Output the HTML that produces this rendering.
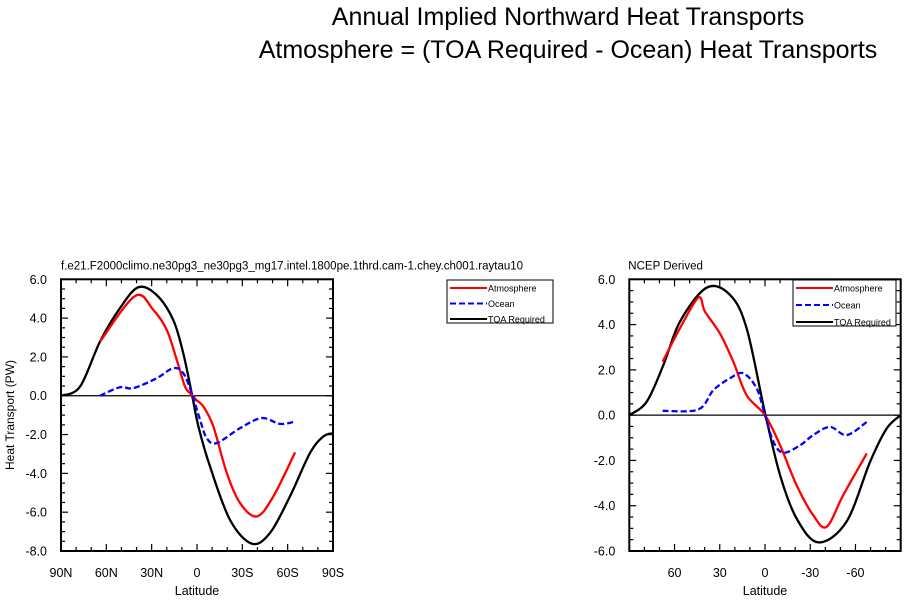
<!DOCTYPE html>
<html><head><meta charset="utf-8"><style>
body{margin:0;background:#fff;width:915px;height:601px;overflow:hidden;font-family:"Liberation Sans",sans-serif}
svg text{font-family:"Liberation Sans",sans-serif}
</style></head><body>
<svg id="chart" width="915" height="601">
<text x="568" y="25" font-size="25" text-anchor="middle">Annual Implied Northward Heat Transports</text>
<text x="568" y="58" font-size="25" text-anchor="middle">Atmosphere = (TOA Required - Ocean) Heat Transports</text>
</svg>
<script>
// ---- data: left panel (model) ----
const leftTicksX=[90,60,30,0,-30,-60,-90];
const leftTickLabelsX=["90N","60N","30N","0","30S","60S","90S"];
const leftTicksY=[6,4,2,0,-2,-4,-6,-8];
const leftTickLabelsY=["6.0","4.0","2.0","0.0","-2.0","-4.0","-6.0","-8.0"];
const leftToaLat=[90,77.4,64.2,51,38.8,26.7,15.7,9.1,3.5,-1,-8.6,-21.8,-36.2,-48.3,-61.5,-74.8,-83.6,-90];
const leftToaVal=[0,0.47,2.79,4.51,5.59,5.19,3.9,2.19,0.13,-1.6,-3.64,-6.39,-7.62,-7.07,-5.19,-2.95,-2.1,-1.93];
const leftAtmLat=[64.2,41,28.9,20,13.4,7.9,3.5,0,-4.2,-10.8,-19.7,-28.5,-39.5,-50.5,-64.9];
const leftAtmVal=[2.79,5.14,4.42,3.39,1.85,0.47,0.05,-0.25,-0.55,-1.58,-3.98,-5.53,-6.22,-5.19,-2.92];
const leftOcnLat=[64.2,51,42.2,26.7,15.7,9.1,3.5,-2,-6.4,-13,-28.5,-42.8,-54.9,-64.9];
const leftOcnVal=[0,0.44,0.39,0.9,1.42,1.16,0.13,-1.24,-2.18,-2.44,-1.67,-1.15,-1.45,-1.33];
// ---- data: right panel (NCEP) ----
const rightTicksX=[60,30,0,-30,-60];
const rightTickLabelsX=["60","30","0","-30","-60"];
const rightTicksY=[6,4,2,0,-2,-4,-6];
const rightTickLabelsY=["6.0","4.0","2.0","0.0","-2.0","-4.0","-6.0"];
const rightToaLat=[90,78.5,67.4,56.4,38.7,23.2,12.2,0,-10,-21,-35.4,-54,-69.7,-80.7,-90];
const rightToaVal=[0,0.59,2.21,4.13,5.63,5.31,3.84,0.1,-2.65,-4.57,-5.62,-4.71,-2.06,-0.59,0];
const rightAtmLat=[67.9,56.4,44.2,39.8,29.9,21,12.2,0,-10,-21,-32,-40.9,-51.9,-67.5];
const rightAtmVal=[2.36,3.84,5.19,4.57,3.61,2.36,0.88,0,-1.33,-3.1,-4.42,-4.93,-3.53,-1.69];
const rightOcnLat=[67.9,44.2,34.3,23.2,14.4,5.5,0,-5.6,-12.2,-23.3,-32,-43.1,-54.2,-67.5];
const rightOcnVal=[0.19,0.25,1.1,1.63,1.85,1.18,0,-1.18,-1.66,-1.33,-0.88,-0.52,-0.88,-0.3];

const NS="http://www.w3.org/2000/svg";
const svg=document.getElementById('chart');
function mk(tag,attrs,parent){const e=document.createElementNS(NS,tag);for(const k in attrs)e.setAttribute(k,attrs[k]);(parent||svg).appendChild(e);return e;}
function smooth(pts){let d="M"+pts[0][0]+","+pts[0][1];for(let i=0;i<pts.length-1;i++){const p0=pts[Math.max(0,i-1)],p1=pts[i],p2=pts[i+1],p3=pts[Math.min(pts.length-1,i+2)];
d+=" C"+(p1[0]+(p2[0]-p0[0])/6)+","+(p1[1]+(p2[1]-p0[1])/6)+" "+(p2[0]-(p3[0]-p1[0])/6)+","+(p2[1]-(p3[1]-p1[1])/6)+" "+p2[0]+","+p2[1];}return d;}

function panel(o){
  const g=mk('g',{});
  
  
  const X=lat=>o.x0+(90-lat)/180*(o.x1-o.x0);
  const Y=v=>o.y0+(o.ymax-v)/(o.ymax-o.ymin)*(o.y1-o.y0);
  for(let v=o.ymin;v<=o.ymax+1e-9;v+=0.5){const y=Y(v),major=Math.abs(v-Math.round(v/2)*2)<1e-6;const L=major?7:4;
    mk('line',{x1:o.x0,x2:o.x0+L,y1:y,y2:y,stroke:'#000','stroke-width':1.2},g);
    mk('line',{x1:o.x1,x2:o.x1-L,y1:y,y2:y,stroke:'#000','stroke-width':1.2},g);}
  for(let lat=-90;lat<=90;lat+=10){const x=X(lat),major=lat%30===0;const L=major?7:4;
    mk('line',{x1:x,x2:x,y1:o.y1,y2:o.y1-L,stroke:'#000','stroke-width':1.2},g);
    mk('line',{x1:x,x2:x,y1:o.y0,y2:o.y0+L,stroke:'#000','stroke-width':1.2},g);}
  o.ticksY.forEach((v,i)=>{const t=mk('text',{x:o.x0-14,y:Y(v)+4.5,'font-size':12.5,'text-anchor':'end'},g);t.textContent=o.labelsY[i];
    
    });
  o.ticksX.forEach((v,i)=>{const t=mk('text',{x:X(v),y:o.y1+26,'font-size':12.5,'text-anchor':'middle'},g);t.textContent=o.labelsX[i];
    
    });
  mk('line',{x1:o.x0,x2:o.x1,y1:Y(0),y2:Y(0),stroke:'#000','stroke-width':1.2},g);
  const series=[[o.toaLat,o.toaVal,'#000',null,'toa-required-line'],[o.atmLat,o.atmVal,'#f00',null,'atmosphere-line'],[o.ocnLat,o.ocnVal,'#00f','6,3','ocean-line']];
  series.forEach(s=>{const pts=s[0].map((l,i)=>[X(l),Y(s[1][i])]);const a={d:smooth(pts),fill:'none',stroke:s[2],'stroke-width':2.3};if(s[3])a['stroke-dasharray']=s[3];const p=mk('path',a,g);
    
    });
  const fr=mk('rect',{x:o.x0,y:o.y0,width:o.x1-o.x0,height:o.y1-o.y0,fill:'none',stroke:'#000','stroke-width':2},g);
  
  
  const st=mk('text',{x:o.x0+o.subDx,y:o.y0-10,'font-size':11.5},g);st.textContent=o.sub;
  
  
  const xt=mk('text',{x:(o.x0+o.x1)/2,y:o.y1+44,'font-size':12.5,'text-anchor':'middle'},g);xt.textContent='Latitude';
  
  
  const lg=mk('g',{},g);
  
  
  mk('rect',{x:o.lx,y:o.ly,width:o.lw,height:o.lh,fill:'#fff',stroke:'#000','stroke-width':1},lg);
  [['Atmosphere','#f00',null],['Ocean','#00f','6,3'],['TOA Required','#000',null]].forEach((e,i)=>{const y=o.ly+8+i*(o.lh-12)/2;
    const a={x1:o.lx+3,x2:o.lx+40,y1:y,y2:y,stroke:e[1],'stroke-width':2};if(e[2])a['stroke-dasharray']=e[2];mk('line',a,lg);
    const t=mk('text',{x:o.lx+41,y:y+3.5,'font-size':9},lg);t.textContent=e[0];
    
    });
  return g;
}
panel({name:'model-panel',x0:61,x1:333,y0:279.3,y1:551,ymax:6,ymin:-8,ticksX:leftTicksX,labelsX:leftTickLabelsX,ticksY:leftTicksY,labelsY:leftTickLabelsY,
 toaLat:leftToaLat,toaVal:leftToaVal,atmLat:leftAtmLat,atmVal:leftAtmVal,ocnLat:leftOcnLat,ocnVal:leftOcnVal,
 sub:'f.e21.F2000climo.ne30pg3_ne30pg3_mg17.intel.1800pe.1thrd.cam-1.chey.ch001.raytau10',subDx:0,lx:447,ly:280,lw:106,lh:43});
panel({name:'ncep-panel',x0:629.3,x1:900.7,y0:279.3,y1:551,ymax:6,ymin:-6,ticksX:rightTicksX,labelsX:rightTickLabelsX,ticksY:rightTicksY,labelsY:rightTickLabelsY,
 toaLat:rightToaLat,toaVal:rightToaVal,atmLat:rightAtmLat,atmVal:rightAtmVal,ocnLat:rightOcnLat,ocnVal:rightOcnVal,
 sub:'NCEP Derived',subDx:-1,lx:793,ly:280,lw:103,lh:46});
const yt=mk('text',{x:14,y:415,'font-size':12,'text-anchor':'middle',transform:'rotate(-90 14 415)'});
yt.textContent='Heat Transport (PW)';


</script>
</body></html>
